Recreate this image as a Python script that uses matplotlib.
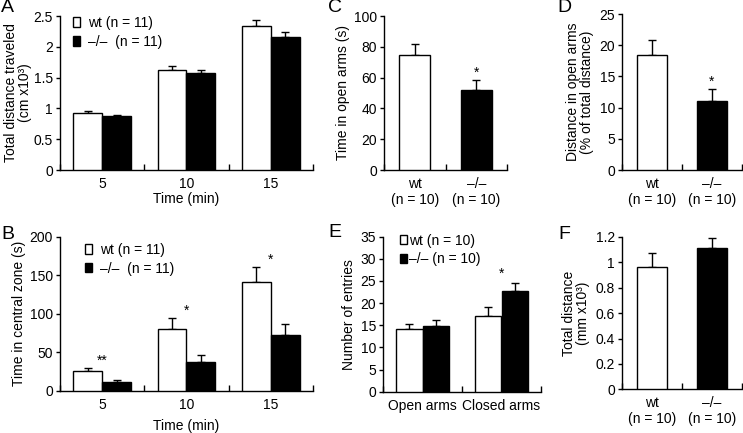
import matplotlib
matplotlib.use("Agg")
import matplotlib.pyplot as plt
import numpy as np
from matplotlib.patches import Patch
from matplotlib.ticker import FormatStrFormatter

plt.rcParams['font.family'] = ['Liberation Sans', 'DejaVu Sans']
plt.rcParams['font.size'] = 10

# ---- data ----
time_labels = ["5", "10", "15"]
a_wt = [0.93, 1.62, 2.33]
a_wt_err = [0.02, 0.07, 0.10]
a_ko = [0.87, 1.57, 2.16]
a_ko_err = [0.03, 0.05, 0.08]

b_wt = [26, 81, 141]
b_wt_err = [4, 14, 20]
b_ko = [12, 38, 73]
b_ko_err = [2.5, 8.5, 14]
b_stars = ["**", "*", "*"]

geno_labels = ["wt\n(n = 10)", "\u2013/\u2013\n(n = 10)"]
c_vals = [75, 52]
c_err = [7, 6.3]
c_stars = ["", "*"]

d_vals = [18.5, 11.1]
d_err = [2.3, 1.9]
d_stars = ["", "*"]

arm_labels = ["Open arms", "Closed arms"]
e_wt = [14.1, 17.2]
e_wt_err = [1.3, 1.9]
e_ko = [14.9, 22.8]
e_ko_err = [1.4, 1.7]
e_stars = ["", "*"]

f_vals = [0.96, 1.11]
f_err = [0.11, 0.08]

W, H = 743, 433
fig = plt.figure(figsize=(W / 100, H / 100), dpi=100)


def add_ax(left, right, top, bottom):
    return fig.add_axes([left / W, 1 - bottom / H, (right - left) / W, (bottom - top) / H])


def style(ax, ncat, labels, ylim, yticks, fmt="%g"):
    for s in ["top", "right"]:
        ax.spines[s].set_visible(False)
    for s in ["left", "bottom"]:
        ax.spines[s].set_linewidth(1.0)
    ax.set_xlim(0, ncat)
    ax.set_ylim(*ylim)
    ax.set_yticks(yticks)
    ax.yaxis.set_major_formatter(FormatStrFormatter(fmt))
    ax.tick_params(axis="y", direction="out", length=3, width=1, pad=2, labelsize=10)
    ax.set_xticks(np.arange(ncat + 1))
    ax.set_xticklabels([])
    ax.tick_params(axis="x", which="major", direction="in", length=4, width=1)
    ax.set_xticks(np.arange(ncat) + 0.5, minor=True)
    ax.set_xticklabels(labels, minor=True)
    ax.tick_params(axis="x", which="minor", length=0, pad=5, labelsize=10)


def grouped(ax, wt, wt_err, ko, ko_err, width):
    x = np.arange(len(wt)) + 0.5
    ax.bar(x - width / 2, wt, width, color="white", edgecolor="black", linewidth=1, zorder=3)
    ax.bar(x + width / 2, ko, width, color="black", edgecolor="black", linewidth=1, zorder=3)
    ax.errorbar(x - width / 2, wt, yerr=[np.zeros(len(wt)), wt_err], fmt="none",
                ecolor="black", elinewidth=1, capsize=3, capthick=1, zorder=2)
    ax.errorbar(x + width / 2, ko, yerr=[np.zeros(len(ko)), ko_err], fmt="none",
                ecolor="black", elinewidth=1, capsize=3, capthick=1, zorder=2)
    return x


def single(ax, vals, err, width=0.5):
    x = np.arange(len(vals)) + 0.5
    ax.bar(x, vals, width, color=["white", "black"], edgecolor="black", linewidth=1, zorder=3)
    ax.errorbar(x, vals, yerr=[np.zeros(len(vals)), err], fmt="none",
                ecolor="black", elinewidth=1, capsize=3, capthick=1, zorder=2)
    return x


def star(ax, x, y, s, dy=0):
    if s:
        ax.annotate(s, xy=(x, y), xytext=(0, dy), textcoords="offset points",
                    ha="center", va="bottom", fontsize=10)


def legend(ax, labels, anchor, textpad=0.6):
    handles = [Patch(facecolor="white", edgecolor="black", linewidth=1),
               Patch(facecolor="black", edgecolor="black", linewidth=1)]
    ax.legend(handles, labels, loc="upper left", bbox_to_anchor=anchor, frameon=False,
              handlelength=0.5, handleheight=0.65, handletextpad=textpad, labelspacing=0.35,
              borderpad=0, borderaxespad=0, fontsize=10)


# ---- A ----
axA = add_ax(60, 313, 16, 170)
grouped(axA, a_wt, a_wt_err, a_ko, a_ko_err, 0.34)
style(axA, 3, time_labels, (0, 2.5), np.arange(0, 2.51, 0.5))
axA.set_xlabel("Time (min)", labelpad=1)
axA.set_ylabel("Total distance traveled\n(cm x10\u00b3)", labelpad=1, linespacing=1.0)
legend(axA, ["wt (n = 11)", "\u2013/\u2013  (n = 11)"], (0.052, 1.0))

# ---- B ----
axB = add_ax(60, 313, 236.7, 391)
xb = grouped(axB, b_wt, b_wt_err, b_ko, b_ko_err, 0.34)
style(axB, 3, time_labels, (0, 200), np.arange(0, 201, 50))
axB.set_xlabel("Time (min)", labelpad=5)
axB.set_ylabel("Time in central zone (s)", labelpad=3)
for i in range(3):
    star(axB, xb[i], b_wt[i] + b_wt_err[i], b_stars[i], dy=0)
legend(axB, ["wt (n = 11)", "\u2013/\u2013  (n = 11)"], (0.098, 0.96))

# ---- C ----
axC = add_ax(384, 507, 16, 170)
xc = single(axC, c_vals, c_err)
style(axC, 2, geno_labels, (0, 100), np.arange(0, 101, 20))
axC.set_ylabel("Time in open arms (s)", labelpad=3)
for i in range(2):
    star(axC, xc[i], c_vals[i] + c_err[i], c_stars[i])

# ---- D ----
axD = add_ax(622, 742, 14, 170)
xd = single(axD, d_vals, d_err)
style(axD, 2, geno_labels, (0, 25), np.arange(0, 26, 5))
axD.set_ylabel("Distance in open arms\n(% of total distance)", labelpad=4, linespacing=1.0)
for i in range(2):
    star(axD, xd[i], d_vals[i] + d_err[i], d_stars[i])

# ---- E ----
axE = add_ax(383, 541, 236.7, 391.7)
xe = grouped(axE, e_wt, e_wt_err, e_ko, e_ko_err, 0.335)
style(axE, 2, arm_labels, (0, 35), np.arange(0, 36, 5))
axE.set_ylabel("Number of entries", labelpad=3)
for i in range(2):
    star(axE, xe[i], max(e_wt[i] + e_wt_err[i], e_ko[i] + e_ko_err[i]), e_stars[i], dy=2)
legend(axE, ["wt (n = 10)", "\u2013/\u2013 (n = 10)"], (0.108, 1.02), textpad=0.15)

# ---- F ----
axF = add_ax(622, 742, 237, 389.3)
single(axF, f_vals, f_err)
style(axF, 2, geno_labels, (0, 1.2), np.arange(0, 1.21, 0.2))
axF.set_ylabel("Total distance\n(mm x10\u00b3)", labelpad=4, linespacing=1.0)

# ---- panel letters ----
for lab, (px, py) in {"A": (1, 8), "B": (1, 234), "C": (328, 8), "D": (557, 8),
                      "E": (328, 233), "F": (558, 234)}.items():
    fig.text(px / W, 1 - py / H, lab, fontsize=14, ha="left", va="center")

fig.savefig("out.png", dpi=100)
